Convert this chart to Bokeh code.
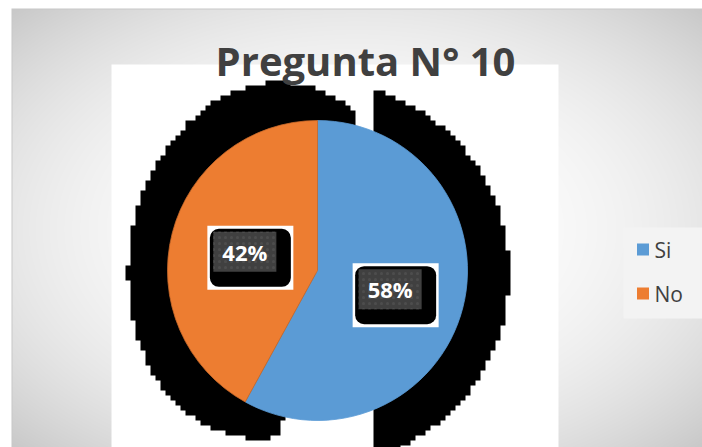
import numpy as np
from bokeh.plotting import figure
from bokeh.models import Range1d
from bokeh.embed import file_html
from bokeh.resources import INLINE
from bokeh.core.properties import value

# ---------------- data ----------------
title_text = "Pregunta N° 10"
categories = ["Si", "No"]
shares = [58, 42]
label_texts = ["58%", "42%"]
colors = ["#5b9bd5", "#ed7d31"]

# ---------------- layout ----------------
W, H = 702, 447
OX, OY = 0, 0


def fx(rx):
    return rx - OX


def fy(ry):
    return (OY + H) - ry


PCX, PCY, PR = 317, 270, 150  # pie centre / radius (page px)

# ---------------- background raster (gradient, plot area, shadow) ----------------
ys, xs = np.mgrid[0:H, 0:W]
rx = xs + OX
ry = ys + OY
rr = np.sqrt(((rx - 356) / 347.0) ** 2 + ((ry - 228) / 220.0) ** 2)
g = np.clip(255 - 24 * rr ** 2.4, 195, 255)
R = g.copy(); G = g.copy(); B = g.copy()

white_left = rx < 11
border = ((ry == 8) | (rx == 11)) & ~white_left & (ry >= 8)
plot_area = (rx >= 111) & (rx <= 557) & (ry >= 64)

# pixelated black shadow
blk = 5
bx = (rx // blk) * blk + blk / 2.0
by = (ry // blk) * blk + blk / 2.0
ex = bx - 268.5
ey = by - 260.0
ua = ex * 0.159 + ey * (-0.987)
vb = ex * 0.987 + ey * 0.159
in_left = (ua / 179.0) ** 2 + (vb / 140.0) ** 2 <= 1.0
theta = np.degrees(np.arctan2(bx - PCX, -(by - PCY))) % 360
left_cut = (theta >= 193) | (theta <= 14.5)
left_shadow = in_left & left_cut
right_shadow = ((bx - 316) ** 2 + (by - 273) ** 2 <= 193.0 ** 2) & (rx >= 373)
shadow = (left_shadow | right_shadow)

for arr in (R, G, B):
    arr[plot_area] = 255
    arr[shadow] = 0
    arr[border] = 200
    arr[white_left] = 255
    arr[(ry < 8)] = 255

img = np.empty((H, W), dtype=np.uint32)
view = img.view(dtype=np.uint8).reshape((H, W, 4))
view[:, :, 0] = R.astype(np.uint8)
view[:, :, 1] = G.astype(np.uint8)
view[:, :, 2] = B.astype(np.uint8)
view[:, :, 3] = 255
img = np.flipud(img)

p = figure(width=W, height=H, x_range=Range1d(0, W), y_range=Range1d(0, H),
           toolbar_location=None, output_backend="svg", min_border=0,
           x_axis_type=None, y_axis_type=None)
p.grid.visible = False
p.outline_line_color = None
p.background_fill_color = "white"
p.border_fill_color = "white"

p.image_rgba(image=[img], x=0, y=0, dw=W, dh=H)

# ---------------- pie ----------------
total = float(sum(shares))
starts, ends, mids = [], [], []
acc = 0.0
for s in shares:
    a0 = np.pi / 2 - 2 * np.pi * acc / total
    a1 = np.pi / 2 - 2 * np.pi * (acc + s) / total
    starts.append(a0)
    ends.append(a1)
    mids.append(2 * np.pi * (acc + s / 2.0) / total)  # clockwise from top
    acc += s

p.wedge(x=[fx(PCX)] * len(shares), y=[fy(PCY)] * len(shares), radius=PR,
        start_angle=starts, end_angle=ends, direction="clock",
        fill_color=colors, line_color=["#5b9bd5", "#c8692b"], line_width=0.8)

# ---------------- data labels ----------------
LD = 75
lx = [fx(PCX) + LD * np.sin(m) for m in mids]
ly = [fy(PCY) + LD * np.cos(m) for m in mids]
sx = [x + 5.5 for x in lx]
sy = [y - 6 for y in ly]
p.rect(x=sx, y=sy, width=86, height=64, fill_color="white", line_color=None)
p.rect(x=sx, y=sy, width=81, height=58, fill_color="black", line_color=None,
       border_radius=9)
p.rect(x=lx, y=ly, width=63, height=40, fill_color="#404040", line_color=None,
       hatch_pattern="dot", hatch_color="#4d4d4d", hatch_scale=6, hatch_weight=1)
p.text(x=lx, y=ly, text=label_texts, text_font=value("Open Sans"),
       text_font_size="22px", text_font_style="bold", text_color="white",
       text_align="center", text_baseline="middle")

# ---------------- legend ----------------
p.quad(left=fx(623), right=W + 2, top=fy(227), bottom=fy(318),
       fill_color="#f3f3f3", line_color=None)
leg_y = [fy(249) - 44 * i for i in range(len(categories))]
p.rect(x=[fx(642.5)] * len(categories), y=leg_y, width=12, height=12,
       fill_color=colors, line_color=None)
p.text(x=[fx(654)] * len(categories), y=leg_y, text=categories,
       text_font=value("Open Sans"), text_font_size="21px", text_color="#404040",
       text_align="left", text_baseline="middle")

# ---------------- title ----------------
p.text(x=[fx(365)], y=[fy(60)], text=[title_text], text_font=value("Open Sans"),
       text_font_size="40px", text_font_style="bold", text_color="#404040",
       text_align="center", text_baseline="middle")

open("out.html", "w").write(file_html(p, INLINE))
